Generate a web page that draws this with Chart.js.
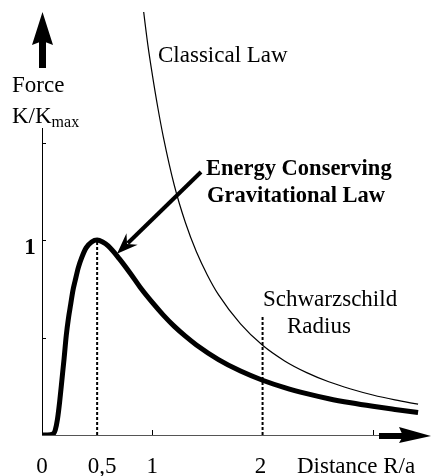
<!DOCTYPE html>
<html>
<head>
<meta charset="utf-8">
<script src="https://cdn.jsdelivr.net/npm/chart.js@4.4.1/dist/chart.umd.min.js"></script>
<style>
  html, body { margin: 0; padding: 0; background: #ffffff; }
  #c { display: block; }
</style>
</head>
<body>
<canvas id="c" width="431" height="476"></canvas>
<script>
// ---- data ----
const energyX = [0, 0.05, 0.1, 0.12, 0.14, 0.16, 0.18, 0.2, 0.22, 0.24, 0.26, 0.28, 0.3, 0.33, 0.36, 0.4, 0.45, 0.5,
                 0.55, 0.6, 0.7, 0.8, 0.9, 1.0, 1.1, 1.2, 1.3, 1.4, 1.6, 1.8, 2.0, 2.2, 2.4, 2.6, 2.8, 3.0, 3.2, 3.41];
const energyY = [0, 0, 0.005, 0.025, 0.08, 0.17, 0.28, 0.39, 0.51, 0.6, 0.67, 0.74, 0.79, 0.86, 0.91, 0.96, 0.99, 1.0,
                 0.99, 0.97, 0.905, 0.83, 0.75, 0.68, 0.615, 0.557, 0.507, 0.462, 0.387, 0.328, 0.281, 0.243, 0.212, 0.186, 0.165, 0.147, 0.131, 0.115];
const classicalX = [0.88, 0.92, 0.96, 1.0, 1.05, 1.1, 1.2, 1.3, 1.4, 1.5, 1.6, 1.8, 2.0, 2.2, 2.4, 2.6, 2.8, 3.0, 3.2, 3.41];
const classicalY = [2.38, 2.18, 2.0, 1.85, 1.68, 1.53, 1.28, 1.09, 0.94, 0.82, 0.72, 0.57, 0.46, 0.38, 0.32, 0.273, 0.236, 0.205, 0.18, 0.158];
const xTickValues = [0, 0.5, 1, 2];
const xTickLabels = ['0', '0,5', '1', '2'];
const yTickMarks = [0.5, 1, 1.5];
const yTickLabelValues = [1];
const yTickLabels = ['1'];
const xTickMarks = [1, 3];
const dottedLines = [[0.5, 1.0], [2, 0.61]];

const toPts = (xs, ys) => xs.map((x, i) => ({ x: x, y: ys[i] }));

const SERIF = '"Liberation Serif", "Times New Roman", serif';

const decor = {
  id: 'decor',
  beforeDatasetsDraw(chart) {
    const ctx = chart.ctx, xs = chart.scales.x, ys = chart.scales.y;
    const x0 = xs.getPixelForValue(0), y0 = ys.getPixelForValue(0);
    ctx.save();
    // x axis line
    ctx.strokeStyle = '#555';
    ctx.lineWidth = 1;
    ctx.beginPath();
    ctx.moveTo(x0, y0 + 0.5);
    ctx.lineTo(385, y0 + 0.5);
    ctx.stroke();
    // y axis line
    ctx.strokeStyle = '#000';
    ctx.beginPath();
    ctx.moveTo(x0 + 0.5, y0);
    ctx.lineTo(x0 + 0.5, 128);
    ctx.stroke();
    // y ticks (inward)
    yTickMarks.forEach(v => {
      const py = Math.round(ys.getPixelForValue(v)) + 0.5;
      ctx.beginPath();
      ctx.moveTo(x0, py);
      ctx.lineTo(x0 + 4, py);
      ctx.stroke();
    });
    // x ticks (upward)
    xTickMarks.forEach(v => {
      const px = Math.round(xs.getPixelForValue(v)) + 0.5;
      ctx.beginPath();
      ctx.moveTo(px, y0);
      ctx.lineTo(px, y0 - 5);
      ctx.stroke();
    });
    // dotted lines
    ctx.setLineDash([3, 2]);
    ctx.lineWidth = 2;
    dottedLines.forEach(([vx, vy]) => {
      const px = xs.getPixelForValue(vx);
      ctx.beginPath();
      ctx.moveTo(px, y0);
      ctx.lineTo(px, ys.getPixelForValue(vy));
      ctx.stroke();
    });
    ctx.restore();
  },
  afterDatasetsDraw(chart) {
    const ctx = chart.ctx, xs = chart.scales.x, ys = chart.scales.y;
    const x0 = xs.getPixelForValue(0), y0 = ys.getPixelForValue(0);
    ctx.save();
    ctx.fillStyle = '#000';
    ctx.strokeStyle = '#000';
    // x arrow
    ctx.fillRect(379, y0 - 2, 24, 6);
    ctx.beginPath();
    ctx.moveTo(431, y0 + 1);
    ctx.lineTo(399, y0 - 8);
    ctx.lineTo(403, y0 + 1);
    ctx.lineTo(399, y0 + 8);
    ctx.closePath();
    ctx.fill();
    // y arrow
    ctx.fillRect(x0 - 3, 40, 7, 28);
    ctx.beginPath();
    ctx.moveTo(x0 + 0.5, 12);
    ctx.lineTo(x0 - 10, 45);
    ctx.lineTo(x0 + 0.5, 41);
    ctx.lineTo(x0 + 11, 45);
    ctx.closePath();
    ctx.fill();
    // pointer arrow to the energy curve
    const sx = 201, sy = 172;
    const tx = xs.getPixelForValue(0.68), ty = ys.getPixelForValue(0.93);
    const dx = tx - sx, dy = ty - sy, len = Math.hypot(dx, dy);
    const ux = dx / len, uy = dy / len, nx = -uy, ny = ux;
    const L = 21, W = 8;
    ctx.lineWidth = 4;
    ctx.beginPath();
    ctx.moveTo(sx, sy);
    ctx.lineTo(tx - ux * (L - 6), ty - uy * (L - 6));
    ctx.stroke();
    ctx.beginPath();
    ctx.moveTo(tx, ty);
    ctx.lineTo(tx - ux * L + nx * W, ty - uy * L + ny * W);
    ctx.lineTo(tx - ux * (L - 7), ty - uy * (L - 7));
    ctx.lineTo(tx - ux * L - nx * W, ty - uy * L - ny * W);
    ctx.closePath();
    ctx.fill();

    // texts
    ctx.textBaseline = 'alphabetic';
    ctx.textAlign = 'left';
    ctx.font = '23px ' + SERIF;
    ctx.fillText('Classical Law', 158, 62);
    ctx.fillText('Force', 12, 92);
    ctx.fillText('K/K', 12, 123);
    const kw = ctx.measureText('K/K').width;
    ctx.font = '16px ' + SERIF;
    ctx.fillText('max', 12 + kw, 127);
    ctx.font = '23px ' + SERIF;
    ctx.fillText('Schwarzschild', 263, 306);
    ctx.fillText('Radius', 287, 333);
    ctx.fillText('Distance R/a', 297, 473);
    ctx.font = 'bold 22.5px ' + SERIF;
    ctx.fillText('Energy Conserving', 206, 175);
    ctx.fillText('Gravitational Law', 207, 202);
    // y tick label
    ctx.textAlign = 'center';
    ctx.font = 'bold 23px ' + SERIF;
    yTickLabelValues.forEach((v, i) => {
      ctx.fillText(yTickLabels[i], 30, ys.getPixelForValue(v) + 14);
    });
    // x tick labels
    ctx.font = '23px ' + SERIF;
    const xOffsets = { '0,5': 5 };
    xTickValues.forEach((v, i) => {
      const lab = xTickLabels[i];
      ctx.fillText(lab, xs.getPixelForValue(v) + (xOffsets[lab] || 0) - (v === 2 ? 2 : 0), 473);
    });
    ctx.restore();
  }
};

new Chart(document.getElementById('c'), {
  type: 'line',
  data: {
    datasets: [
      {
        label: 'Energy Conserving Gravitational Law',
        data: toPts(energyX, energyY),
        borderColor: '#000',
        borderWidth: 5,
        pointRadius: 0,
        cubicInterpolationMode: 'monotone',
        fill: false
      },
      {
        label: 'Classical Law',
        data: toPts(classicalX, classicalY),
        borderColor: '#000',
        borderWidth: 1.2,
        pointRadius: 0,
        cubicInterpolationMode: 'monotone',
        fill: false
      }
    ]
  },
  options: {
    responsive: false,
    animation: false,
    devicePixelRatio: 1,
    layout: { padding: { left: 42, right: 3, top: 12, bottom: 41 } },
    scales: {
      x: { type: 'linear', min: 0, max: 3.5, display: false },
      y: { type: 'linear', min: 0, max: 2.17, display: false }
    },
    plugins: { legend: { display: false }, tooltip: { enabled: false } },
    events: []
  },
  plugins: [decor]
});
</script>
</body>
</html>
